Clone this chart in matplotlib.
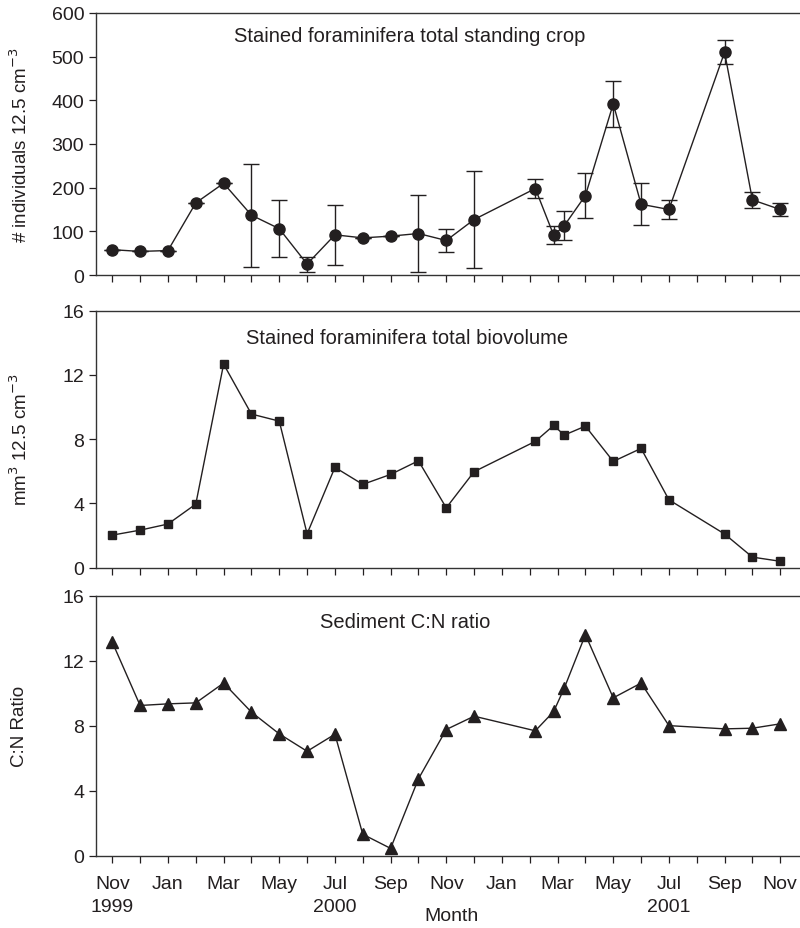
import matplotlib
matplotlib.use("Agg")
import matplotlib.pyplot as plt
import numpy as np

plt.rcParams['font.family'] = ['Liberation Sans', 'DejaVu Sans']

# months since Nov 1999
months = [0, 1, 2, 3, 4, 5, 6, 7, 8, 9, 10, 11, 12, 13, 15.2, 15.86, 16.24, 17, 18, 19, 20, 22, 23, 24]

standing_crop = [58, 54, 56, 165, 210, 137, 106, 25, 92, 85, 89, 95, 79, 127, 198, 91, 113, 182, 392, 162, 150, 510, 172, 150]
standing_err = [0, 0, 0, 0, 0, 118, 65, 17, 68, 0, 0, 89, 27, 111, 21, 21, 33, 51, 53, 48, 21, 27, 18, 15]

biovolume = [2.02, 2.33, 2.71, 3.95, 12.67, 9.56, 9.12, 2.10, 6.24, 5.18, 5.80, 6.65, 3.72,
             5.97, 7.86, 8.85, 8.25, 8.81, 6.61, 7.42, 4.22, 2.09, 0.65, 0.39]

cn_ratio = [13.14, 9.24, 9.34, 9.40, 10.62, 8.83, 7.49, 6.42, 7.47, 1.31, 0.44, 4.72, 7.76,
            8.58, 7.68, 8.87, 10.31, 13.6, 9.71, 10.62, 8.0, 7.80, 7.84, 8.11]

tick_pos = [0, 2, 4, 6, 8, 10, 12, 14, 16, 18, 20, 22, 24]
tick_labels = ["Nov\n1999", "Jan", "Mar", "May", "Jul\n2000", "Sep", "Nov", "Jan", "Mar",
               "May", "Jul\n2001", "Sep", "Nov"]

ink = '#231f20'
fs = 14
fig = plt.figure(figsize=(8, 9.29), dpi=100)

L, R = 0.12, 1.0
ax1 = fig.add_axes([L, 0.7029, R - L, 0.985 - 0.7029])
ax2 = fig.add_axes([L, 0.388, R - L, 0.6645 - 0.388])
ax3 = fig.add_axes([L, 0.078, R - L, 0.3577 - 0.078])

for ax in (ax1, ax2, ax3):
    ax.set_xlim(-0.585, 24.71)
    ax.spines['right'].set_visible(False)
    for s in ('left', 'top', 'bottom'):
        ax.spines[s].set_color('#333333')
        ax.spines[s].set_linewidth(1.0)
    ax.set_xticks(np.arange(0, 25, 1), minor=True)
    ax.set_xticks(tick_pos)
    ax.tick_params(axis='both', which='both', direction='out', length=5, width=0.9,
                   color=ink, labelsize=fs, labelcolor=ink)
    ax.tick_params(axis='x', which='both', pad=9)

ax1.errorbar(months, standing_crop, yerr=standing_err, color=ink, lw=1.0, marker='o',
             markersize=8, capsize=6, elinewidth=1.0, capthick=1.0)
ax1.set_ylim(0, 600)
ax1.set_yticks([0, 100, 200, 300, 400, 500, 600])
ax1.set_xticklabels([])

ax2.plot(months, biovolume, color=ink, lw=1.0, marker='s', markersize=6)
ax2.set_ylim(0, 16)
ax2.set_yticks([0, 4, 8, 12, 16])
ax2.set_xticklabels([])

ax3.plot(months, cn_ratio, color=ink, lw=1.0, marker='^', markersize=8)
ax3.set_ylim(0, 16)
ax3.set_yticks([0, 4, 8, 12, 16])
ax3.set_xticklabels(tick_labels, fontsize=fs, linespacing=1.45)

# panel titles
fig.text(410 / 800, 1 - 37 / 929, "Stained foraminifera total standing crop", ha='center', va='center',
         fontsize=14.5, color=ink)
fig.text(407 / 800, 1 - 338 / 929, "Stained foraminifera total biovolume", ha='center', va='center',
         fontsize=14.5, color=ink)
fig.text(405 / 800, 1 - 623 / 929, "Sediment C:N ratio", ha='center', va='center',
         fontsize=14.5, color=ink)

ylab_kw = dict(rotation=90, ha='center', va='center', fontsize=13.5, color=ink)
fig.text(20 / 800, 1 - 145 / 929, "# individuals 12.5 cm$^{-3}$", **ylab_kw)
fig.text(20 / 800, 1 - 440 / 929, "mm$^{3}$ 12.5 cm$^{-3}$", **ylab_kw)
fig.text(20 / 800, 1 - 726 / 929, "C:N Ratio", **ylab_kw)

fig.text(452 / 800, 1 - 917 / 929, "Month", ha='center', va='center', fontsize=fs, color=ink)

fig.savefig("out.png", dpi=100)
